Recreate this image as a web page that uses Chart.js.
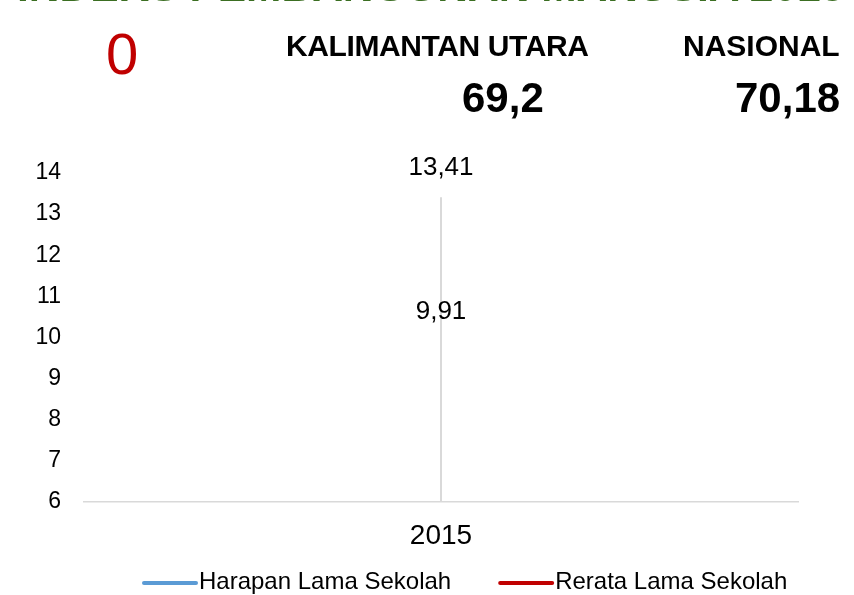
<!DOCTYPE html>
<html>
<head>
<meta charset="utf-8">
<script src="https://cdn.jsdelivr.net/npm/chart.js@4.4.0/dist/chart.umd.min.js"></script>
<style>
    html, body { margin: 0; padding: 0; background: #fff; overflow: hidden; }
    #wrap { position: relative; width: 854px; height: 595px; }
    #wrap canvas { position: absolute; left: 0; top: 0; }
    .t { position: absolute; white-space: nowrap; font-family: "Liberation Sans", Arial, sans-serif; }
</style>
</head>
<body>
<div id="wrap">
    <canvas id="ipmChart" width="854" height="595"></canvas>
    <div class="t" id="title" style="left:17px; top:-34px; font-size:42.5px; line-height:42.5px; font-weight:bold; color:#3b6e22;"></div>
    <div class="t" id="zero" style="left:106px; top:25px; font-size:58px; line-height:58px; color:#c00000;"></div>
    <div class="t" id="region0" style="left:286px; top:31px; font-size:30px; line-height:30px; font-weight:bold; letter-spacing:-0.4px;"></div>
    <div class="t" id="region1" style="left:683px; top:31px; font-size:30px; line-height:30px; font-weight:bold;"></div>
    <div class="t" id="value0" style="left:462px; top:77px; font-size:42px; line-height:42px; font-weight:bold;"></div>
    <div class="t" id="value1" style="left:735px; top:77px; font-size:42px; line-height:42px; font-weight:bold;"></div>
</div>
<script>
// data
const titleText = "INDEKS PEMBANGUNAN MANUSIA 2015";
const regions = ["KALIMANTAN UTARA", "NASIONAL"];
const ipmValues = [69.2, 70.18];
const categories = ["2015"];
const harapanLamaSekolah = [13.41];
const rerataLamaSekolah = [9.91];
const yMin = 6;
const yMax = 14;

const fmt = v => String(v).replace(".", ",");

// header texts
document.getElementById("title").textContent = titleText;
document.getElementById("zero").textContent = "0";
document.getElementById("region0").textContent = regions[0];
document.getElementById("region1").textContent = regions[1];
document.getElementById("value0").textContent = fmt(ipmValues[0]);
document.getElementById("value1").textContent = fmt(ipmValues[1]);

const FONT = "'Liberation Sans', Arial, sans-serif";

// drop line from highest point down to the axis
const dropLines = {
    id: "dropLines",
    beforeDatasetsDraw(chart) {
        const { ctx, chartArea, scales } = chart;
        ctx.save();
        ctx.strokeStyle = "#d9d9d9";
        ctx.lineWidth = 2;
        categories.forEach((c, i) => {
            const vals = chart.data.datasets.map(d => d.data[i]);
            const x = scales.x.getPixelForValue(i);
            const y = scales.y.getPixelForValue(Math.max(...vals));
            ctx.beginPath();
            ctx.moveTo(x, y);
            ctx.lineTo(x, chartArea.bottom);
            ctx.stroke();
        });
        ctx.restore();
    }
};

// value labels above the points
const valueLabels = {
    id: "valueLabels",
    afterDatasetsDraw(chart) {
        const { ctx } = chart;
        ctx.save();
        ctx.font = "26px " + FONT;
        ctx.fillStyle = "#000";
        ctx.textAlign = "center";
        ctx.textBaseline = "alphabetic";
        chart.data.datasets.forEach((ds, di) => {
            chart.getDatasetMeta(di).data.forEach((pt, i) => {
                ctx.fillText(fmt(ds.data[i]), pt.x, pt.y - 22);
            });
        });
        ctx.restore();
    }
};

// legend with line samples
const lineLegend = {
    id: "lineLegend",
    afterDraw(chart) {
        const { ctx } = chart;
        ctx.save();
        ctx.font = "24px " + FONT;
        ctx.textBaseline = "alphabetic";
        ctx.textAlign = "left";
        let x = 142;
        const y = 583;
        chart.data.datasets.forEach(ds => {
            ctx.strokeStyle = ds.borderColor;
            ctx.lineWidth = 4;
            ctx.lineCap = "round";
            ctx.beginPath();
            ctx.moveTo(x + 2, y);
            ctx.lineTo(x + 54, y);
            ctx.stroke();
            ctx.fillStyle = "#000";
            ctx.fillText(ds.label, x + 57, y + 6);
            x += 57 + ctx.measureText(ds.label).width + 47;
        });
        ctx.restore();
    }
};

const ctx = document.getElementById("ipmChart").getContext("2d");
const ipmChart = new Chart(ctx, {
    type: "line",
    data: {
        labels: categories,
        datasets: [{
            label: "Harapan Lama Sekolah",
            data: harapanLamaSekolah,
            borderColor: "#5b9bd5",
            backgroundColor: "#5b9bd5",
            borderWidth: 4,
            pointRadius: 0
        }, {
            label: "Rerata Lama Sekolah",
            data: rerataLamaSekolah,
            borderColor: "#c00000",
            backgroundColor: "#c00000",
            borderWidth: 4,
            pointRadius: 0
        }]
    },
    options: {
        responsive: false,
        animation: false,
        layout: { padding: { left: 0, right: 56, top: 173, bottom: 0 } },
        plugins: {
            legend: { display: false },
            tooltip: { enabled: false }
        },
        scales: {
            x: {
                offset: true,
                grid: { display: false, drawTicks: false },
                border: { display: true, color: "#d9d9d9", width: 1.5 },
                ticks: { color: "#000", font: { family: FONT, size: 28 }, padding: 17 },
                afterFit: s => { s.height = 93; }
            },
            y: {
                min: yMin,
                max: yMax,
                grid: { display: false, drawTicks: false },
                border: { display: false },
                ticks: { stepSize: 1, color: "#000", font: { family: FONT, size: 23 }, padding: 23 },
                afterFit: s => { s.width = 84; }
            }
        }
    },
    plugins: [dropLines, valueLabels, lineLegend]
});
</script>
</body>
</html>
